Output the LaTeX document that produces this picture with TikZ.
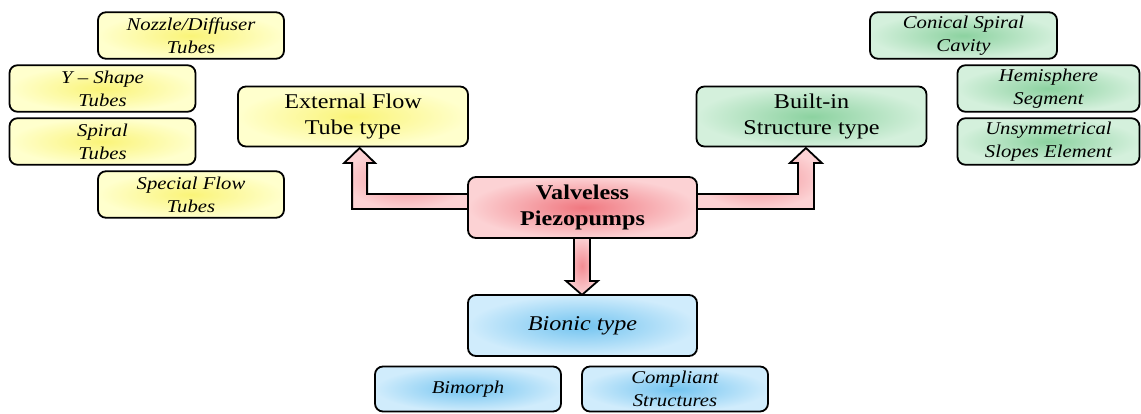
\documentclass[tikz,border=0pt]{standalone}
\usepackage{fontspec}
\setmainfont{Liberation Serif}[FakeStretch=1.15]
\usetikzlibrary{calc,backgrounds}
\definecolor{yin}{RGB}{250,244,120}
\definecolor{yout}{RGB}{255,255,205}
\definecolor{gin}{RGB}{140,210,160}
\definecolor{gout}{RGB}{212,240,220}
\definecolor{bin}{RGB}{115,196,240}
\definecolor{bout}{RGB}{208,236,252}
\definecolor{pin}{RGB}{240,120,128}
\definecolor{pout}{RGB}{252,210,212}
\tikzset{
  box/.style={draw=black, line width=1.8pt, rounded corners=8pt, inner sep=0pt, align=center, text=black},
  main/.style={box, minimum width=230pt, minimum height=60pt, font=\fontsize{21}{26}\selectfont},
  sub/.style={box, minimum width=186pt, minimum height=46.5pt, font=\fontsize{18}{23}\selectfont\itshape},
  ybox/.style={shading=radial, inner color=yin, outer color=yout},
  gbox/.style={shading=radial, inner color=gin, outer color=gout},
  bbox/.style={shading=radial, inner color=bin, outer color=bout},
  pbox/.style={shading=radial, inner color=pin, outer color=pout},
  fatarrow/.style={draw=black, line width=1.8pt, line join=miter, shading=radial, inner color=pin!85, outer color=pout},
}
\begin{document}
\begin{tikzpicture}[x=1pt, y=-1pt]
\useasboundingbox (0,0) rectangle (1141,413);
% left group
\node[sub, ybox] (noz) at (191,35.5) {Nozzle/Diffuser\\Tubes};
\node[sub, ybox] (yshape) at (102.5,88.5) {Y -- Shape\\Tubes};
\node[sub, ybox] (spiral) at (102.5,141.5) {Spiral\\Tubes};
\node[sub, ybox] (special) at (191,194.5) {Special Flow\\Tubes};
\node[main, ybox] (ext) at (353,116.5) {External Flow\\Tube type};
% right group
\node[main, gbox] (built) at (811.5,116.5) {Built-in\\Structure type};
\node[sub, gbox, minimum width=187pt] (conical) at (963.5,35.5) {Conical Spiral\\Cavity};
\node[sub, gbox, minimum width=182pt] (hemi) at (1048.5,88.5) {Hemisphere\\Segment};
\node[sub, gbox, minimum width=182pt] (unsym) at (1048.5,141.5) {Unsymmetrical\\Slopes Element};
% centre
\node[main, pbox, minimum width=229pt, minimum height=61pt, font=\fontsize{21}{26}\selectfont\bfseries] (vp) at (582.5,207.5) {Valveless\\Piezopumps};
\node[main, bbox, minimum width=229pt, minimum height=61pt, font=\fontsize{21}{26}\selectfont\itshape] (bionic) at (582.5,325.5) {Bionic type};
\node[sub, bbox, minimum height=45pt] (bimorph) at (468,389) {Bimorph};
\node[sub, bbox, minimum height=45pt] (compliant) at (675,389) {Compliant\\Structures};
% arrows
\begin{scope}[on background layer]
\draw[fatarrow] ($(vp.west)+(2,1.5)$) -- ++(-117,0) -- ++(0,-46) -- ++(-8,0) -- ++(15.5,-15)
  -- ++(15.5,15) -- ++(-8,0) -- ++(0,31) -- ++(102,0) -- cycle;
\draw[fatarrow] ($(vp.east)+(-2,1.5)$) -- ++(118,0) -- ++(0,-46) -- ++(8,0) -- ++(-16,-15)
  -- ++(-16,15) -- ++(8,0) -- ++(0,31) -- ++(-102,0) -- cycle;
\draw[fatarrow] ($(vp.south)+(-8.5,-2)$) -- ++(0,44) -- ++(-8,0) -- ++(16,14) -- ++(16,-14)
  -- ++(-8,0) -- ++(0,-44) -- cycle;
\end{scope}
\end{tikzpicture}
\end{document}
